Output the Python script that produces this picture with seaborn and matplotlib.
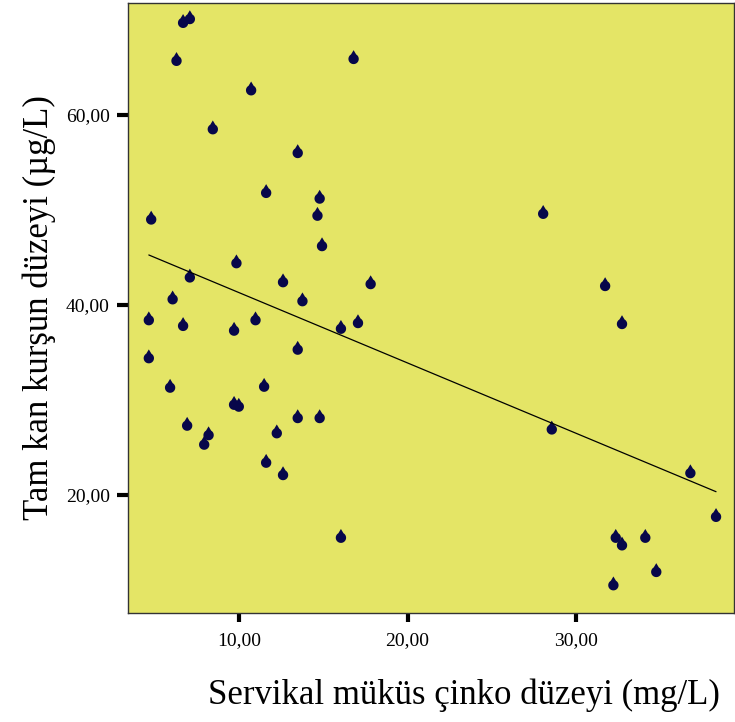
import numpy as np
import pandas as pd
import matplotlib
matplotlib.use("Agg")
import matplotlib.pyplot as plt
from matplotlib.path import Path
from matplotlib.ticker import FixedLocator, FuncFormatter
import seaborn as sns

# Servikal müküs çinko (mg/L) vs tam kan kurşun (µg/L)
zinc = [6.70, 7.10, 6.31, 16.80, 10.73, 8.46, 13.49, 11.62, 14.79, 14.66,
        4.81, 14.93, 9.86, 7.10, 12.62, 17.81, 6.08, 13.77, 4.67, 6.70,
        9.72, 10.99, 16.05, 17.06, 13.49, 4.67, 5.93, 11.50, 9.72, 10.00,
        13.49, 14.79, 6.94, 8.21, 7.95, 12.25, 11.62, 12.62, 16.05,
        28.03, 31.70, 32.70, 28.54, 36.75, 38.27, 32.33, 32.70, 34.08,
        34.73, 32.19]
lead = [69.7, 70.1, 65.7, 65.9, 62.6, 58.5, 56.0, 51.8, 51.2, 49.4,
        49.0, 46.2, 44.4, 42.9, 42.4, 42.2, 40.6, 40.4, 38.4, 37.8,
        37.3, 38.4, 37.5, 38.1, 35.3, 34.4, 31.3, 31.4, 29.5, 29.3,
        28.1, 28.1, 27.3, 26.3, 25.3, 26.5, 23.4, 22.1, 15.5,
        49.6, 42.0, 38.0, 26.9, 22.3, 17.7, 15.5, 14.7, 15.5,
        11.9, 10.5]
x_ticks = [10, 20, 30]
y_ticks = [20, 40, 60]

df = pd.DataFrame({"zinc": zinc, "lead": lead})

# teardrop marker: round bulb with a short point on top
ang = np.linspace(np.deg2rad(60), np.deg2rad(-240), 50)
verts = [(0.0, 1.7)] + [(np.cos(a), np.sin(a)) for a in ang] + [(0.0, 1.7)]
codes = [Path.MOVETO] + [Path.LINETO] * len(ang) + [Path.CLOSEPOLY]
drop = Path(verts, codes)

sns.set_style("white")
plt.rcParams["font.family"] = ["Liberation Serif", "DejaVu Serif"]
plt.rcParams["text.color"] = "black"
plt.rcParams["axes.labelcolor"] = "black"
plt.rcParams["xtick.color"] = "black"
plt.rcParams["ytick.color"] = "black"

fig = plt.figure(figsize=(7.35, 7.22), dpi=100)
ax = fig.add_axes([0.174, 0.151, 0.825, 0.845])
ax.set_facecolor("#E4E566")

sns.regplot(data=df, x="zinc", y="lead", ci=None, scatter=False, ax=ax,
            line_kws={"color": "black", "linewidth": 0.9})
sns.scatterplot(data=df, x="zinc", y="lead", marker=drop, s=160,
                color="#07074A", edgecolor="none", linewidth=0, ax=ax)

ax.set_xlim(3.43, 39.35)
ax.set_ylim(7.58, 71.8)
ax.xaxis.set_major_locator(FixedLocator(x_ticks))
ax.yaxis.set_major_locator(FixedLocator(y_ticks))
fmt = FuncFormatter(lambda v, p: f"{v:.2f}".replace(".", ","))
ax.xaxis.set_major_formatter(fmt)
ax.yaxis.set_major_formatter(fmt)
ax.tick_params(axis="x", bottom=True, direction="out", length=6.5, width=3,
               colors="black", labelsize=14, pad=7)
ax.tick_params(axis="y", left=True, direction="out", length=8, width=3,
               colors="black", labelsize=14, pad=5)

for sp in ax.spines.values():
    sp.set_color("#333333")
    sp.set_linewidth(1.0)

ax.set_xlabel("Servikal müküs çinko düzeyi (mg/L)", fontsize=25)
ax.xaxis.set_label_coords(0.555, -0.107)
ax.set_ylabel("Tam kan kurşun düzeyi (µg/L)", fontsize=25, labelpad=7)

fig.savefig("out.png", dpi=100)
